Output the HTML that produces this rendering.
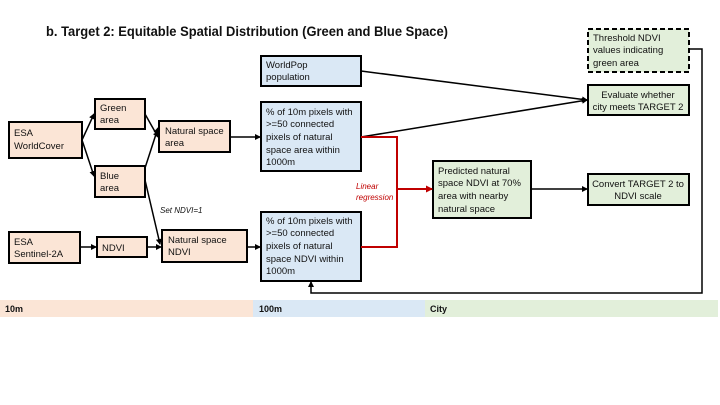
<!DOCTYPE html>
<html><head><meta charset="utf-8"><style>
body{margin:0;background:#fff}
svg{display:block;font-family:"Liberation Sans",sans-serif}
text{font-size:9.5px;fill:#111}
</style></head><body>
<svg width="720" height="405" viewBox="0 0 720 405" xmlns="http://www.w3.org/2000/svg">
<defs>
<marker id="a" markerWidth="6" markerHeight="6" refX="5" refY="3" orient="auto" markerUnits="userSpaceOnUse"><path d="M0,0 L6,3 L0,6z" fill="#000"/></marker>
<marker id="r" markerWidth="7" markerHeight="7" refX="6" refY="3.5" orient="auto" markerUnits="userSpaceOnUse"><path d="M0,0 L7,3.5 L0,7z" fill="#c00000"/></marker>
</defs>
<text x="46" y="36" style="font-size:14px;font-weight:bold" textLength="402" lengthAdjust="spacingAndGlyphs">b. Target 2: Equitable Spatial Distribution (Green and Blue Space)</text>

<!-- bands -->
<rect x="0" y="300" width="253" height="17" fill="#fbe5d6"/>
<rect x="253" y="300" width="172" height="17" fill="#dae8f5"/>
<rect x="425" y="300" width="293" height="17" fill="#e2efda"/>
<text x="5" y="312" style="font-weight:bold;font-size:9px">10m</text>
<text x="259" y="312" style="font-weight:bold;font-size:9px">100m</text>
<text x="430" y="312" style="font-weight:bold;font-size:9px">City</text>

<g stroke="#000" stroke-width="2">
<rect x="9" y="122" width="73" height="36" fill="#fbe5d6"/>
<rect x="95" y="99" width="50" height="30" fill="#fbe5d6"/>
<rect x="95" y="166" width="50" height="31" fill="#fbe5d6"/>
<rect x="159" y="121" width="71" height="31" fill="#fbe5d6"/>
<rect x="9" y="232" width="71" height="31" fill="#fbe5d6"/>
<rect x="97" y="237" width="50" height="20" fill="#fbe5d6"/>
<rect x="162" y="230" width="85" height="32" fill="#fbe5d6"/>
<rect x="261" y="56" width="100" height="30" fill="#dae8f5"/>
<rect x="261" y="102" width="100" height="69" fill="#dae8f5"/>
<rect x="261" y="212" width="100" height="69" fill="#dae8f5"/>
<rect x="433" y="161" width="98" height="57" fill="#e2efda"/>
<rect x="588" y="174" width="101" height="31" fill="#e2efda"/>
<rect x="588" y="85" width="101" height="30" fill="#e2efda"/>
<rect x="588" y="29" width="101" height="43" fill="#e2efda" stroke-dasharray="5,3"/>
</g>

<g stroke="#000" stroke-width="1.5" fill="none">
<line x1="82" y1="140" x2="94" y2="114" marker-end="url(#a)"/>
<line x1="82" y1="140" x2="94" y2="176" marker-end="url(#a)"/>
<line x1="145" y1="114" x2="158" y2="137" marker-end="url(#a)"/>
<line x1="145" y1="168" x2="158" y2="128" marker-end="url(#a)"/>
<line x1="145" y1="180" x2="160" y2="244" marker-end="url(#a)"/>
<line x1="80" y1="247" x2="96" y2="247" marker-end="url(#a)"/>
<line x1="147" y1="247" x2="161" y2="247" marker-end="url(#a)"/>
<line x1="230" y1="137" x2="260" y2="137" marker-end="url(#a)"/>
<line x1="247" y1="247" x2="260" y2="247" marker-end="url(#a)"/>
<line x1="361" y1="71" x2="587" y2="100" marker-end="url(#a)"/>
<line x1="361" y1="137" x2="587" y2="100" marker-end="url(#a)"/>
<line x1="531" y1="189" x2="587" y2="189" marker-end="url(#a)"/>
<polyline points="689,49 702,49 702,293 311,293 311,282" marker-end="url(#a)"/>
</g>
<g stroke="#c00000" stroke-width="2" fill="none">
<polyline points="361,137 397,137 397,247 361,247"/>
<line x1="397" y1="189" x2="432" y2="189" marker-end="url(#r)"/>
</g>
<text x="356" y="189" style="font-size:8px;font-style:italic;fill:#c00000">Linear</text>
<text x="356" y="200" style="font-size:8px;font-style:italic;fill:#c00000">regression</text>
<text x="160" y="213" style="font-size:8px;font-style:italic">Set NDVI=1</text>

<text x="14" y="136">ESA</text><text x="14" y="149">WorldCover</text>
<text x="100" y="111">Green</text><text x="100" y="123">area</text>
<text x="100" y="179">Blue</text><text x="100" y="191">area</text>
<text x="165" y="134">Natural space</text><text x="165" y="146">area</text>
<text x="14" y="245">ESA</text><text x="14" y="257">Sentinel-2A</text>
<text x="102" y="251">NDVI</text>
<text x="168" y="243">Natural space</text><text x="168" y="255">NDVI</text>
<text x="266" y="68">WorldPop</text><text x="266" y="80">population</text>
<text x="266" y="115">% of 10m pixels with</text><text x="266" y="127">&gt;=50 connected</text><text x="266" y="140">pixels of natural</text><text x="266" y="153">space area within</text><text x="266" y="165">1000m</text>
<text x="266" y="224">% of 10m pixels with</text><text x="266" y="236">&gt;=50 connected</text><text x="266" y="249">pixels of natural</text><text x="266" y="262">space NDVI within</text><text x="266" y="274">1000m</text>
<text x="438" y="174">Predicted natural</text><text x="438" y="186">space NDVI at 70%</text><text x="438" y="199">area with nearby</text><text x="438" y="212">natural space</text>
<text x="638" y="98" text-anchor="middle">Evaluate whether</text><text x="638" y="110" text-anchor="middle">city meets TARGET 2</text>
<text x="638" y="187" text-anchor="middle">Convert TARGET 2 to</text><text x="638" y="199" text-anchor="middle">NDVI scale</text>
<text x="593" y="41">Threshold NDVI</text><text x="593" y="53">values indicating</text><text x="593" y="66">green area</text>
</svg>
</body></html>
